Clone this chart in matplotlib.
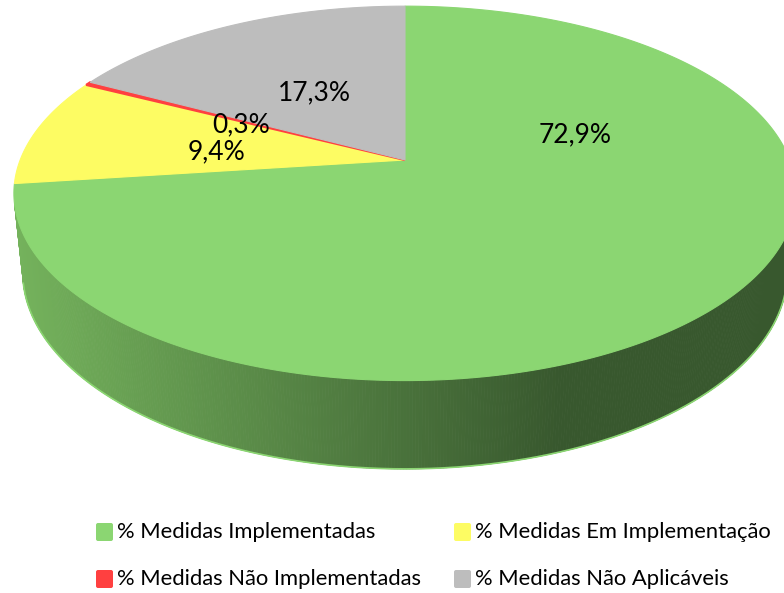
import numpy as np
import matplotlib.pyplot as plt
from matplotlib.patches import Polygon, FancyBboxPatch
from matplotlib.colors import to_rgb

# data
labels = ['% Medidas Implementadas', '% Medidas Em Implementação',
          '% Medidas Não Implementadas', '% Medidas Não Aplicáveis']
values = [72.9, 9.4, 0.3, 17.3]
pct_text = ['72,9%', '9,4%', '0,3%', '17,3%']
colors = ['#8bd672', '#fdfc63', '#ff4040', '#bdbdbd']

# label anchors on the pie top (angle clockwise from top in degrees, radius fraction)
label_ang = [72.5, 275.2, 294.6, 327.3]
label_rad = [0.475, 0.495, 0.486, 0.469]

# simple perspective camera for the 3D pie (pixel space)
cx, cy = 405, 160
elev = np.radians(28.1)
D = 4.95
f = 1905.0
h = 0.234
se, ce = np.sin(elev), np.cos(elev)


def proj(X, Y, Z):
    yc = Y * ce + Z * se
    zc = D + Z * ce - Y * se
    return cx + f * X / zc, cy - f * yc / zc


def rim(phi, Y=0.0):
    return proj(np.sin(phi), Y, np.cos(phi))


fig = plt.figure(figsize=(7.84, 5.93), dpi=100)
ax = fig.add_axes([0, 0, 1, 1])
ax.set_xlim(0, 784)
ax.set_ylim(593, 0)
ax.axis('off')

# side of the pie (only visible front part), shaded by screen x
side_light = np.array(to_rgb('#74b25c'))
side_dark = np.array(to_rgb('#38582e'))
lim = np.arccos(-1.0 / (D * ce))
phis = np.linspace(lim, 2 * np.pi - lim, 400)
for p0, p1 in zip(phis[:-1], phis[1:]):
    x0, y0 = rim(p0)
    x1, y1 = rim(p1)
    x2, y2 = rim(p1, -h)
    x3, y3 = rim(p0, -h)
    t = np.clip(((x0 + x1) / 2 - 15) / (560 - 15), 0, 1)
    col = side_light * (1 - t) + side_dark * t
    ax.add_patch(Polygon([(x0, y0), (x1, y1), (x2, y2), (x3, y3)],
                         closed=True, fc=col, ec=col, lw=0.6))
bx, by = rim(phis, -h)
ax.plot(bx, by, color='#8bd672', lw=1.2)

# top face wedges
start = 0.0
total = sum(values)
for v, c in zip(values, colors):
    a0 = start
    a1 = start + v / total * 2 * np.pi
    ang = np.linspace(a0, a1, max(3, int(v * 4)))
    px, py = rim(ang)
    pts = [(cx, cy)] + list(zip(px, py))
    ax.add_patch(Polygon(pts, closed=True, fc=c, ec=c, lw=1.6 if v < 1 else 0.8))
    start = a1

# percentage labels
for txt, a, r in zip(pct_text, label_ang, label_rad):
    a = np.radians(a)
    tx, ty = proj(r * np.sin(a), 0, r * np.cos(a))
    ax.text(tx, ty, txt, fontsize=19, family='Lato', ha='center', va='center', color='black')

# legend
col_x = [96, 454]
row_y = [532, 579]
for i, (lab, c) in enumerate(zip(labels, colors)):
    x = col_x[i % 2]
    y = row_y[i // 2]
    ax.add_patch(FancyBboxPatch((x, y - 9), 17, 18, boxstyle='round,pad=0,rounding_size=2',
                                fc=c, ec='none'))
    ax.text(x + 21, y, lab, fontsize=15.8, family='Lato', ha='left', va='center', color='black')

fig.savefig('out.png', dpi=100)
